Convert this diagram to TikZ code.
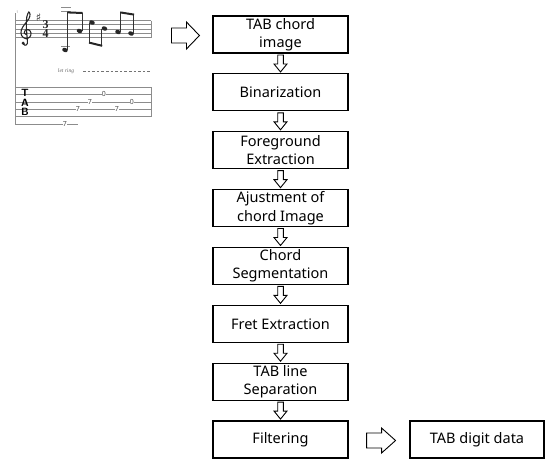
\documentclass[tikz,border=0pt]{standalone}
\usepackage{fontspec}
\setmainfont{Noto Sans}
\newfontfamily\dejavu{DejaVu Sans}
\newfontfamily\lserif{Liberation Serif}
\usetikzlibrary{calc}
\begin{document}
\begin{tikzpicture}[x=1pt,y=-1pt,
  stepbox/.style={draw, line width=1.1pt, minimum width=135pt, minimum height=37pt,
    inner sep=0pt, align=center, font=\fontsize{14.5}{18.5}\selectfont},
  blk/.style={draw, line width=0.9pt, fill=white, line join=miter},
  staffline/.style={black!45, line width=0.55pt},
  notehead/.style={fill=black!85},
  stem/.style={black!80, line width=0.75pt},
  beam/.style={black!85, line width=2pt},
  tsig/.style={font=\lserif\bfseries\fontsize{12}{12}\selectfont, text=black!85, inner sep=0pt},
  tabletter/.style={font=\bfseries\sffamily\fontsize{10.5}{10.5}\selectfont, inner sep=0pt},
  tabnum/.style={fill=white, inner sep=0.4pt, text=black!70, font=\fontsize{7}{7}\selectfont}
]
\useasboundingbox (0,0) rectangle (546,459);

% ---------- score picture ----------
\node[minimum width=150pt, minimum height=125pt, inner sep=0pt] (score) at (83,68) {};
\foreach \y in {20.5,24.75,29,33.25,37.5} \draw[staffline] (15,\y) -- (151,\y);
\draw[staffline] (15,13) -- (15,125);
\draw[staffline] (151,20.5) -- (151,37.5);
\node[text=black!50, font=\fontsize{3.5}{4}\selectfont] (mnum) at (17.5,12) {1};
% treble clef drawn as a shape
\draw[black!85, line width=1.1pt, line cap=round] plot[smooth, tension=0.6] coordinates {
  (23,43.5) (25,45.2) (27.3,43.5) (27,36) (26.3,26) (26.8,17) (28.8,12) (30,14.5)
  (28.8,19) (24.5,24.5) (21.3,30) (21.6,35.5) (25.5,38.6) (29.8,37) (31,33)
  (28.8,29.8) (25.2,30.2) (24.2,33) (26.5,34.5)};
\fill[black!85] (23.2,43.2) circle (1.7);
\node[font=\dejavu\fontsize{11}{11}\selectfont, text=black!85, inner sep=0pt] (sharp) at (38.6,17) {♯};
\node[tsig] (tsa) at (45.5,24.8) {3};
\node[tsig] (tsb) at (45.5,33.4) {4};
% ledger marks
\draw[staffline] (61,7) -- (71,7);
\draw[staffline] (61,11.5) -- (71,11.5);
\draw[staffline] (61,46) -- (70,46);
% notes
\foreach \x/\y in {65/50,79.5/31,92/22.5,104.5/28.5,118/32,131/33.5}
  \fill[notehead, rotate around={-20:(\x,\y)}] (\x,\y) ellipse (2.9 and 2.1);
\draw[stem] (67.7,50) -- (67.7,12);
\draw[stem] (82.2,31) -- (82.2,13);
\draw[stem] (89.4,22.5) -- (89.4,43);
\draw[stem] (101.8,28.5) -- (101.8,46);
\draw[stem] (120.7,32) -- (120.7,12);
\draw[stem] (133.7,33.5) -- (133.7,14.5);
\draw[beam] (67.3,12.4) -- (82.6,13);
\draw[beam] (89,42.6) -- (102.2,45.8);
\draw[beam] (120.3,12.4) -- (134.1,14.6);
% let ring
\node[font=\lserif\itshape\fontsize{5.5}{6}\selectfont, text=black!60, inner sep=0pt] (letring) at (66,71) {let ring};
\draw[black!55, line width=0.6pt, dash pattern=on 2.6pt off 2pt] (83,71) -- (151,71);
% TAB staff
\foreach \y in {87,94.4,101.8,109.2,116.6} \draw[staffline] (15,\y) -- (151,\y);
\draw[staffline] (15,124) -- (78,124);
\draw[staffline] (151,87) -- (151,116.6);
\node[tabletter] (tT) at (25,93) {T};
\node[tabletter] (tA) at (25,102.5) {A};
\node[tabletter] (tB) at (25,112) {B};
\node[tabnum] (n1) at (104,94.4) {0};
\node[tabnum] (n2) at (90,101.8) {7};
\node[tabnum] (n3) at (132,101.8) {0};
\node[tabnum] (n4) at (78,109.2) {7};
\node[tabnum] (n5) at (117,109.2) {7};
\node[tabnum] (n6) at (65,124) {7};

% ---------- flow boxes ----------
\node[stepbox] (b1) at (280.5,34.5) {TAB chord\\image};
\node[stepbox] (b2) at (280.5,92.4) {Binarization};
\node[stepbox] (b3) at (280.5,150.2) {Foreground\\Extraction};
\node[stepbox] (b4) at (280.5,208.1) {Ajustment of\\chord Image};
\node[stepbox] (b5) at (280.5,265.9) {Chord\\Segmentation};
\node[stepbox] (b6) at (280.5,323.8) {Fret Extraction};
\node[stepbox] (b7) at (280.5,381.6) {TAB line\\Separation};
\node[stepbox] (b8) at (280.5,439.5) {Filtering};
\node[stepbox, minimum width=134pt] (b9) at (477,439.5) {TAB digit data};

% down block arrows
\foreach \a/\b in {b1/b2,b2/b3,b3/b4,b4/b5,b5/b6,b6/b7,b7/b8}
  \draw[blk] ($(\a.south)!0.5!(\b.north)+(-2.8,-8.5)$) -- ++(0,9) -- ++(-3.7,0)
     -- ++(6.5,8) -- ++(6.5,-8) -- ++(-3.7,0) -- ++(0,-9) -- cycle;

% right block arrows
\draw[blk] ($(b1.west)+(-41,-6.5)$) -- ++(15,0) -- ++(0,-6) -- ++(13,13.5)
   -- ++(-13,13.5) -- ++(0,-6) -- ++(-15,0) -- cycle;
\draw[blk] ($(b8.east)+(18,-6.5)$) -- ++(15,0) -- ++(0,-5) -- ++(14,12.5)
   -- ++(-14,12.5) -- ++(0,-5) -- ++(-15,0) -- cycle;
\end{tikzpicture}
\end{document}
